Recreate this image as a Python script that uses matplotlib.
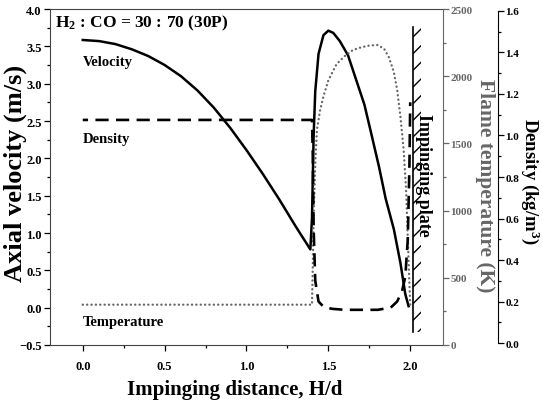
import matplotlib
matplotlib.use("Agg")
from matplotlib import pyplot as plt
from matplotlib.ticker import MultipleLocator

# axial velocity (m/s) along the jet axis
vel_x = [0.0, 0.1, 0.2, 0.3, 0.4, 0.5, 0.6, 0.7, 0.8, 0.9, 1.0, 1.1, 1.2, 1.3, 1.39,
         1.40, 1.41, 1.42, 1.44, 1.47, 1.50, 1.53, 1.57, 1.62, 1.67, 1.72, 1.76,
         1.81, 1.85, 1.90, 1.94, 1.97, 1.99]
vel_y = [3.585, 3.57, 3.53, 3.46, 3.37, 3.25, 3.10, 2.91, 2.68, 2.41, 2.11, 1.79, 1.45, 1.09, 0.78,
         1.20, 2.30, 2.90, 3.40, 3.65, 3.71, 3.68, 3.57, 3.38, 3.05, 2.72, 2.35,
         1.88, 1.46, 1.05, 0.60, 0.18, 0.02]

# flame temperature (K)
temp_x = [0.0, 1.40, 1.405, 1.41, 1.415, 1.42, 1.43, 1.45, 1.47, 1.50, 1.55, 1.60, 1.65,
          1.70, 1.75, 1.80, 1.84, 1.87, 1.90, 1.92, 1.94, 1.96, 1.975, 1.985, 1.995, 2.0]
temp_y = [300, 300, 600, 950, 1150, 1350, 1600, 1750, 1850, 1970, 2090, 2150, 2195,
          2215, 2228, 2232, 2205, 2140, 2030, 1900, 1700, 1450, 1150, 800, 450, 300]

# density (kg/m3)
dens_x = [0.0, 1.40, 1.405, 1.41, 1.42, 1.44, 1.47, 1.52, 1.60, 1.70, 1.80, 1.88,
          1.92, 1.95, 1.97, 1.985, 1.995, 2.0]
dens_y = [1.075, 1.075, 0.90, 0.55, 0.30, 0.20, 0.175, 0.165, 0.16, 0.16, 0.16, 0.17,
          0.20, 0.25, 0.32, 0.50, 0.85, 1.16]

W, H = 543, 410
grey = '#666666'
plt.rcParams['font.family'] = 'Liberation Serif'
plt.rcParams['font.weight'] = 'bold'
plt.rcParams['mathtext.fontset'] = 'custom'
plt.rcParams['mathtext.bf'] = 'Liberation Serif:bold'

fig = plt.figure(figsize=(W / 100, H / 100), dpi=100)
ax = fig.add_axes([0.0921, 0.1561, 0.7237, 0.8195])
ax_t = ax.twinx()
ax_d = ax.twinx()

# velocity (left axis)
ax.plot(vel_x, vel_y, color='black', lw=1.8)
ax.set_xlim(-0.2, 2.2)
ax.set_ylim(-0.5, 4.0)
ax.xaxis.set_major_locator(MultipleLocator(0.5))
ax.xaxis.set_minor_locator(MultipleLocator(0.25))
ax.yaxis.set_major_locator(MultipleLocator(0.5))
ax.yaxis.set_minor_locator(MultipleLocator(0.25))
ax.tick_params(labelsize=9, length=4, width=0.9, colors='black')
ax.tick_params(axis='x', pad=7)
ax.tick_params(axis='y', pad=2)
ax.tick_params(which='minor', length=2.5, width=0.9)
ax.spines['right'].set_visible(False)
for s in ['left', 'bottom', 'top']:
    ax.spines[s].set_color('#444444')

# temperature (first right axis)
ax_t.plot(temp_x, temp_y, color=grey, lw=1.7, linestyle=(0, (0.05, 1.8)),
          dash_capstyle='round')
ax_t.set_ylim(0, 2500)
ax_t.yaxis.set_major_locator(MultipleLocator(500))
ax_t.yaxis.set_minor_locator(MultipleLocator(250))
ax_t.tick_params(labelsize=8, length=4, width=0.9, colors=grey, pad=1.5)
ax_t.tick_params(which='minor', length=2.5, width=0.9, colors=grey)
for s in ['left', 'top', 'bottom']:
    ax_t.spines[s].set_visible(False)
ax_t.spines['right'].set_color(grey)

# density (second right axis, offset)
ax_d.plot(dens_x, dens_y, color='black', lw=1.9, linestyle=(3, (5, 2.8)))
ax_d.set_ylim(-0.0095, 1.6095)
ax_d.spines['right'].set_position(('axes', 1.14))
ax_d.spines['right'].set_bounds(0, 1.6)
for s in ['left', 'top', 'bottom']:
    ax_d.spines[s].set_visible(False)
ax_d.yaxis.set_major_locator(MultipleLocator(0.2))
ax_d.yaxis.set_minor_locator(MultipleLocator(0.1))
ax_d.tick_params(labelsize=8, length=4, width=0.9, pad=1.5)
ax_d.tick_params(which='minor', length=2.5, width=0.9)

# axis titles placed by pixel centre
fig.text(235 / W, 1 - 390 / H, 'Impinging distance, H/d', fontsize=15,
         fontweight='bold', ha='center', va='center')
fig.text(15 / W, 1 - 173 / H, 'Axial velocity (m/s)', fontsize=19,
         fontweight='bold', ha='center', va='center', rotation=90)
fig.text(485 / W, 1 - 186 / H, 'Flame temperature (K)', fontsize=15.5,
         fontweight='bold', ha='center', va='center', rotation=-90, color=grey)
fig.text(530.5 / W, 1 - 181 / H, 'Density (kg/m$\\mathbf{^3}$)', fontsize=13.5,
         fontweight='bold', ha='center', va='center', rotation=-90)

# impinging plate
ax.fill_betweenx([-0.33, 3.76], 2.018, 2.066, facecolor='none', edgecolor='black',
                 hatch='//', linewidth=0)
ax.plot([2.018, 2.018], [-0.33, 3.76], color='black', lw=1.2)
ax.text(2.083, 1.79, 'Impinging plate', rotation=-90, fontsize=13, fontweight='bold',
        ha='center', va='center')

# annotations
ax.text(0.012, 0.988, 'H$\\mathbf{_2}$ : CO = 30 : 70 (30P)', transform=ax.transAxes,
        fontsize=12.5, fontweight='bold', va='top', ha='left')
ax.text(0.0, 3.30, 'Velocity', fontsize=10.5, fontweight='bold', va='center')
ax.text(0.0, 2.26, 'Density', fontsize=10.5, fontweight='bold', va='center')
ax.text(0.0, -0.19, 'Temperature', fontsize=10.5, fontweight='bold', va='center')

fig.savefig('out.png', dpi=100)
